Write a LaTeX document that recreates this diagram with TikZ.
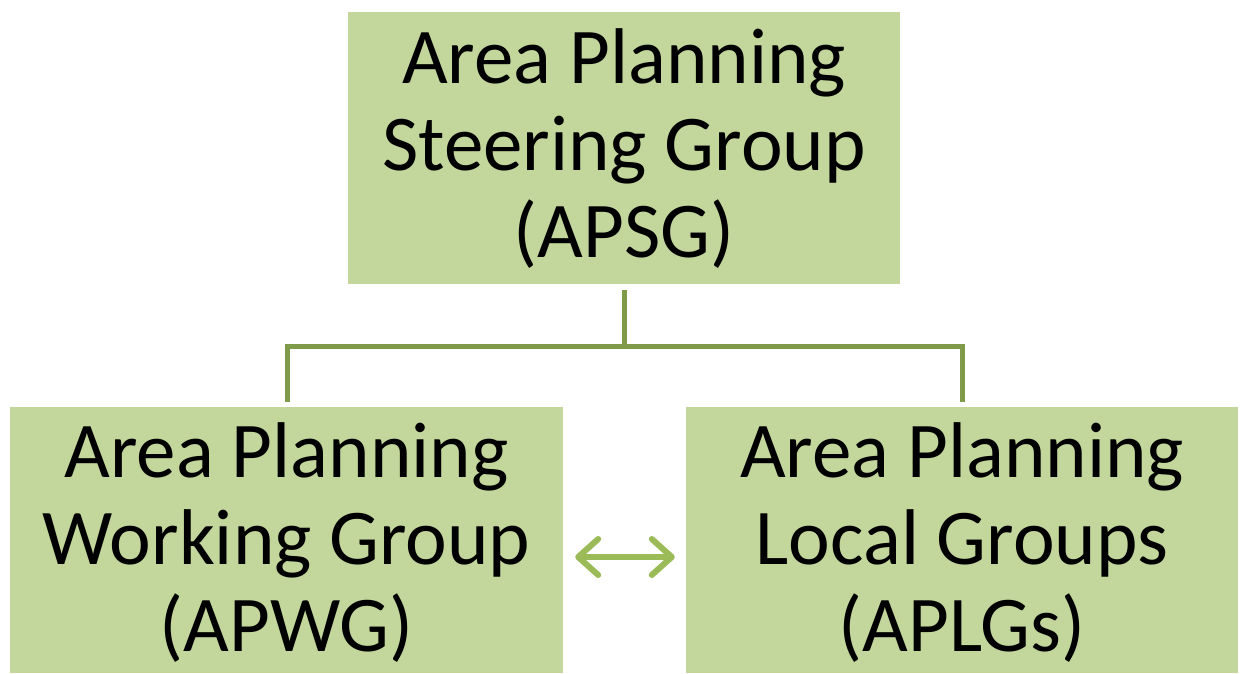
\documentclass[tikz,border=0pt]{standalone}
\usepackage{fontspec}
\setmainfont{Carlito}
\usetikzlibrary{arrows.meta}
\definecolor{boxfill}{HTML}{C3D69B}
\definecolor{linecol}{HTML}{7F9A48}
\definecolor{arrcol}{HTML}{9BBB59}
\begin{document}
\begin{tikzpicture}[x=1pt,y=-1pt,
  orgbox/.style={fill=boxfill, draw=none, inner sep=0pt},
  orgtext/.style={inner sep=0pt, align=center, font=\fontsize{79}{87}\selectfont},
  conn/.style={draw=linecol, line width=5pt}]
\useasboundingbox (0,0) rectangle (1243,673);
\node[orgbox, minimum width=552pt, minimum height=272pt] (apsg) at (624,148) {};
\node[orgbox, minimum width=553pt, minimum height=266pt] (apwg) at (286.5,540) {};
\node[orgbox, minimum width=552pt, minimum height=266pt] (aplg) at (962,540) {};
\node[orgtext] (apsgt) at (624,149) {Area Planning\\Steering Group\\(APSG)};
\node[orgtext] (apwgt) at (286.5,543) {Area Planning\\Working Group\\(APWG)};
\node[orgtext] (aplgt) at (962,543) {Area Planning\\Local Groups\\(APLGs)};
\coordinate (top) at (624,290);
\coordinate (mid) at (624,346);
\coordinate (lft) at (287,346);
\coordinate (rgt) at (962,346);
\coordinate (lend) at (287,402);
\coordinate (rend) at (962,402);
\draw[conn] (top) -- (mid);
\draw[conn] (lend) -- (lft) -- (rgt) -- (rend);
\draw[draw=arrcol, line width=6pt, line cap=round,
  {Straight Barb[length=20pt,width=36pt,line cap=round,line join=round]}-{Straight Barb[length=20pt,width=36pt,line cap=round,line join=round]}]
  ([xshift=12pt]apwg.east |- 0,557) -- ([xshift=-11pt]aplg.west |- 0,557);
\end{tikzpicture}
\end{document}
